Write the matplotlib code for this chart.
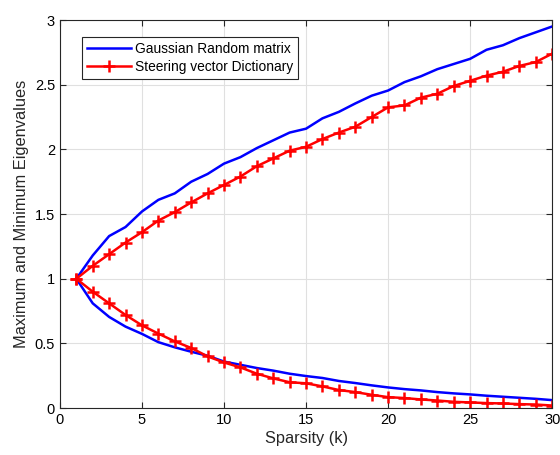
import numpy as np
import matplotlib
matplotlib.use('Agg')
from matplotlib import pyplot as plt

plt.rcParams['font.family'] = ['Liberation Sans', 'DejaVu Sans']

k = np.arange(1, 31)

gauss_max = [1.00, 1.18, 1.33, 1.40, 1.52, 1.61, 1.66, 1.75, 1.81, 1.89,
             1.94, 2.01, 2.07, 2.13, 2.16, 2.24, 2.29, 2.355, 2.415, 2.455,
             2.52, 2.565, 2.62, 2.66, 2.70, 2.77, 2.805, 2.86, 2.905, 2.95]
gauss_min = [1.00, 0.81, 0.705, 0.63, 0.574, 0.51, 0.47, 0.436, 0.405, 0.36,
             0.335, 0.31, 0.29, 0.266, 0.248, 0.233, 0.21, 0.194, 0.176, 0.16,
             0.147, 0.137, 0.124, 0.114, 0.106, 0.096, 0.088, 0.08, 0.072, 0.062]
steer_max = [1.00, 1.10, 1.19, 1.28, 1.36, 1.45, 1.515, 1.59, 1.66, 1.725,
             1.79, 1.87, 1.93, 1.99, 2.02, 2.08, 2.13, 2.175, 2.25, 2.325,
             2.34, 2.40, 2.43, 2.49, 2.53, 2.57, 2.60, 2.645, 2.675, 2.74]
steer_min = [1.00, 0.90, 0.81, 0.72, 0.64, 0.576, 0.516, 0.465, 0.40, 0.353,
             0.315, 0.266, 0.23, 0.20, 0.192, 0.168, 0.14, 0.124, 0.103, 0.085,
             0.078, 0.067, 0.059, 0.049, 0.044, 0.039, 0.036, 0.031, 0.028, 0.02]

fig = plt.figure(figsize=(5.6, 4.55), dpi=100)
ax = fig.add_axes([0.107, 0.103, 0.879, 0.853])

ax.plot(k, gauss_max, color='#0000ff', lw=1.8, label='Gaussian Random matrix')
ax.plot(k, gauss_min, color='#0000ff', lw=1.8)
ax.plot(k, steer_max, color='#ff0000', lw=1.8, marker='+', ms=8, mew=1.8,
        label='Steering vector Dictionary')
ax.plot(k, steer_min, color='#ff0000', lw=1.8, marker='+', ms=8, mew=1.8)

ax.set_xlim(0, 30)
ax.set_ylim(0, 3)
ax.set_xticks(np.arange(0, 31, 5))
ax.set_yticks([0, 0.5, 1, 1.5, 2, 2.5, 3])
ax.set_yticklabels(['0', '0.5', '1', '1.5', '2', '2.5', '3'])
ax.grid(True, color='#e0e0e0', lw=0.8)
ax.tick_params(direction='in', top=True, right=True, labelsize=10.5,
               color='#262626', length=4)
for s in ax.spines.values():
    s.set_color('#262626')
    s.set_linewidth(0.8)

ax.set_xlabel('Sparsity (k)', fontsize=11.8, color='#262626', labelpad=3)
ax.set_ylabel('Maximum and Minimum Eigenvalues', fontsize=11.8, color='#262626')

leg = ax.legend(loc='upper left', bbox_to_anchor=(0.044, 0.957), fontsize=9.9,
                fancybox=False, edgecolor='#262626', framealpha=1,
                borderaxespad=0, handlelength=3.27, handletextpad=0.25,
                borderpad=0.36, labelspacing=0.33)
leg.get_frame().set_linewidth(0.8)

fig.savefig('out.png', dpi=100)
